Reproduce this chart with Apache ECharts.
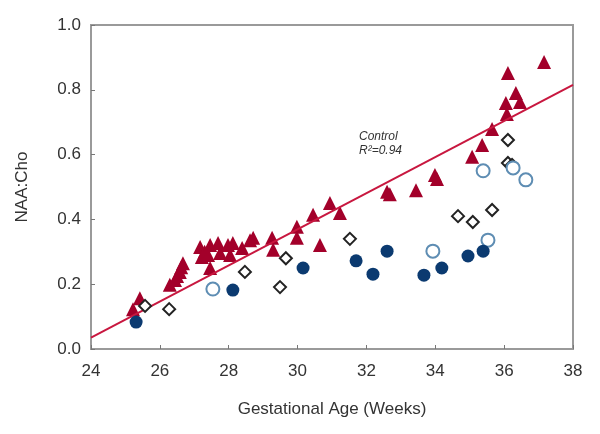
<!DOCTYPE html>
<html>
<head>
<meta charset="utf-8">
<script src="https://cdn.jsdelivr.net/npm/echarts@6/dist/echarts.min.js"></script>
<style>html,body{margin:0;padding:0;background:#fff}#c{width:600px;height:434px}</style>
</head>
<body>
<div id="c"></div>
<script>
const xTicks = [24, 26, 28, 30, 32, 34, 36, 38];
const yTicks = [0.0, 0.2, 0.4, 0.6, 0.8, 1.0];
const controlPts = [
  [25.22,0.123],[25.42,0.157],[26.29,0.198],[26.44,0.213],[26.50,0.225],[26.58,0.238],[26.67,0.265],[26.62,0.252],
  [27.17,0.315],[27.22,0.284],[27.30,0.300],[27.46,0.321],[27.40,0.290],[27.46,0.250],[27.69,0.327],[27.75,0.296],
  [27.98,0.321],[28.04,0.290],[28.12,0.327],[28.39,0.312],[28.62,0.336],[28.71,0.343],[29.26,0.343],[29.29,0.306],
  [29.98,0.377],[29.98,0.343],[30.45,0.414],[30.65,0.321],[30.94,0.451],[31.23,0.420],[32.60,0.485],[32.68,0.478],
  [33.44,0.490],[33.99,0.537],[34.05,0.525],[35.07,0.593],[35.36,0.630],[35.65,0.679],[36.08,0.725],[36.05,0.759],
  [36.46,0.762],[36.34,0.790],[36.11,0.852],[37.16,0.886]
];
const diamondPts = [
  [25.57,0.133],[26.27,0.123],[28.47,0.238],[29.49,0.191],[29.66,0.280],[31.52,0.340],
  [34.66,0.410],[35.09,0.392],[35.65,0.429],[36.11,0.574],[36.23,0.568],[36.11,0.645]
];
const openCirclePts = [
  [27.54,0.185],[33.93,0.302],[35.53,0.336],[35.39,0.550],[36.26,0.559],[36.63,0.522]
];
const filledCirclePts = [
  [25.31,0.083],[28.12,0.182],[30.16,0.250],[31.70,0.272],[32.19,0.231],[32.60,0.302],
  [33.67,0.228],[34.19,0.250],[34.95,0.287],[35.39,0.302]
];
const fitLine = [[24,0.035],[38,0.815]];
const annotation = ['Control', 'R²=0.94'];

const chart = echarts.init(document.getElementById('c'));
const axisFont = {fontFamily:'Liberation Sans, Arial, sans-serif', fontSize:17, color:'#333'};
chart.setOption({
  animation:false,
  backgroundColor:'#fff',
  grid:{left:91, right:27, top:25, bottom:85, show:true, borderColor:'#9a9a9a', borderWidth:2},
  xAxis:{type:'value', min:24, max:38, interval:2,
    axisLine:{lineStyle:{color:'#9a9a9a', width:2}},
    axisTick:{inside:true, length:4, lineStyle:{color:'#777'}},
    splitLine:{show:false},
    axisLabel:Object.assign({margin:14, formatter:v=>xTicks.includes(v)?String(v):''}, axisFont),
    name:'Gestational Age (Weeks)', nameLocation:'middle', nameGap:52,
    nameTextStyle:axisFont
  },
  yAxis:{type:'value', min:0, max:1, interval:0.2,
    axisLine:{lineStyle:{color:'#9a9a9a', width:2}},
    axisTick:{inside:true, length:4, lineStyle:{color:'#777'}},
    splitLine:{show:false},
    axisLabel:Object.assign({margin:10, formatter:v=>{const t=yTicks.find(y=>Math.abs(y-v)<1e-6);return t===undefined?'':t.toFixed(1);}}, axisFont),
    name:'NAA:Cho', nameLocation:'middle', nameGap:60, nameRotate:90,
    nameTextStyle:axisFont
  },
  series:[
    {type:'line', data:fitLine, showSymbol:false, symbol:'none', lineStyle:{color:'#c8173f', width:2}, z:3, silent:true},
    {type:'scatter', data:controlPts, symbol:'triangle', symbolSize:14, itemStyle:{color:'#a3002a', opacity:1}, z:2},
    {type:'scatter', data:diamondPts, symbol:'diamond', symbolSize:12, itemStyle:{color:'#fff', borderColor:'#222', borderWidth:2, opacity:1}, z:4},
    {type:'scatter', data:openCirclePts, symbol:'circle', symbolSize:13, itemStyle:{color:'#fff', borderColor:'#5e8db3', borderWidth:2, opacity:1}, z:4},
    {type:'scatter', data:filledCirclePts, symbol:'circle', symbolSize:13, itemStyle:{color:'#0b3a70', opacity:1}, z:4}
  ],
  graphic:[
    {type:'text', left:359, top:131, style:{text:annotation[0], font:'italic 12px Liberation Sans, Arial, sans-serif', fill:'#333'}},
    {type:'text', left:359, top:145, style:{text:annotation[1], font:'italic 12px Liberation Sans, Arial, sans-serif', fill:'#333'}}
  ]
});
</script>
</body>
</html>
